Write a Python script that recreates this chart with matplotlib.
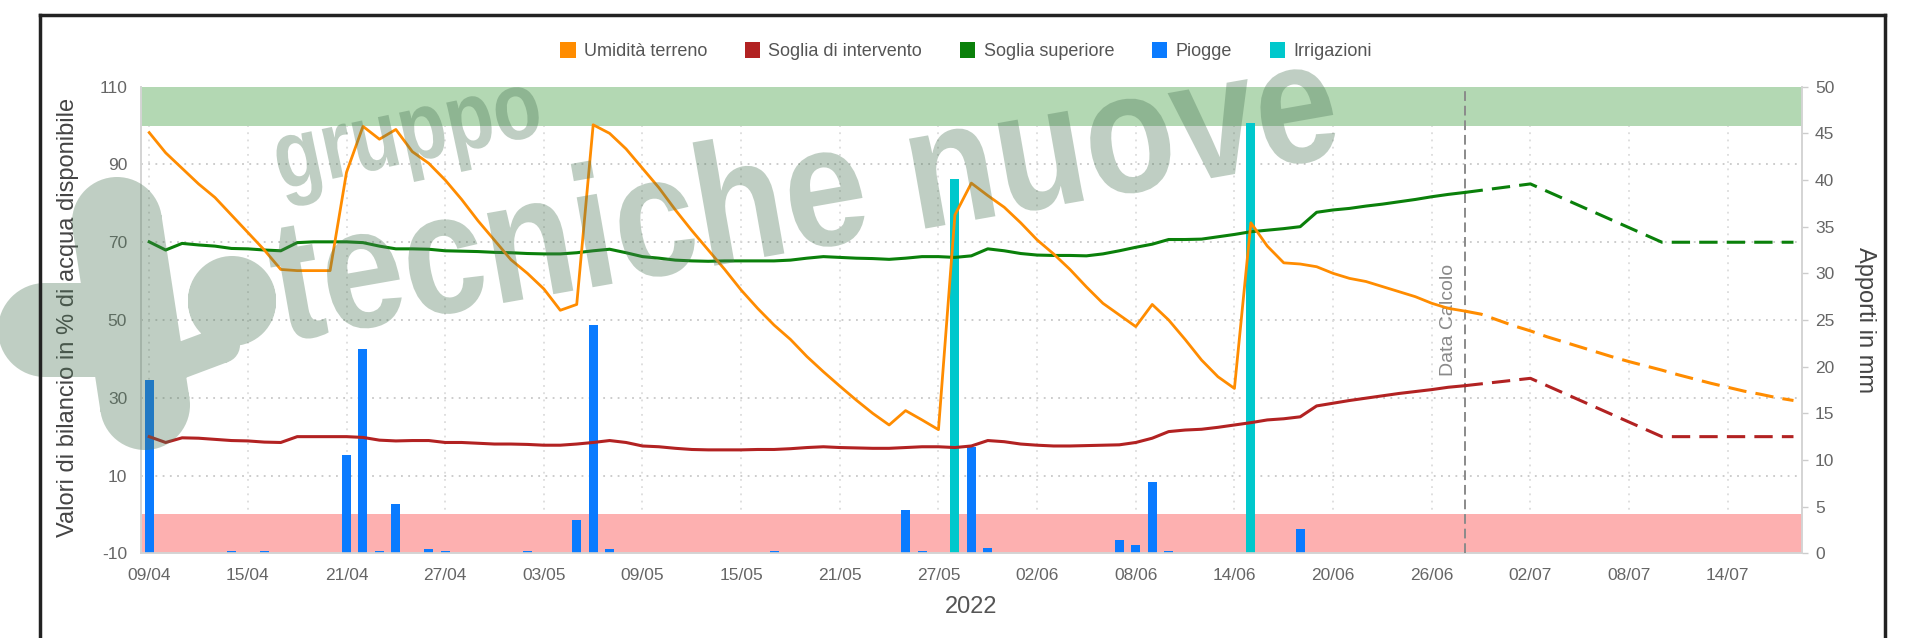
import numpy as np
import matplotlib
matplotlib.use("Agg")
import matplotlib.pyplot as plt
import matplotlib.transforms as mtransforms
from matplotlib.patches import Patch, Rectangle, PathPatch
from matplotlib.path import Path
from matplotlib.lines import Line2D
from matplotlib.textpath import TextPath
from matplotlib.font_manager import FontProperties

plt.rcParams['font.family'] = ['Liberation Sans', 'DejaVu Sans']
plt.rcParams['axes.unicode_minus'] = False

# --- data (day 0 = 09/04/2022) ---
tick_days = [0, 6, 12, 18, 24, 30, 36, 42, 48, 54, 60, 66, 72, 78, 84, 90, 96]
tick_labels = ["09/04", "15/04", "21/04", "27/04", "03/05", "09/05", "15/05", "21/05",
               "27/05", "02/06", "08/06", "14/06", "20/06", "26/06", "02/07", "08/07", "14/07"]
left_ticks = [-10, 10, 30, 50, 70, 90, 110]

umidita = [98.2, 93, 89, 85, 81.5, 77, 72.5, 68, 63, 62.7, 62.7, 62.7, 88, 99.8, 96.5,
           99, 93.3, 90.3, 86, 81, 75.5, 70.5, 65.5, 62, 58, 52.5, 54, 100.2, 98, 94,
           89, 84, 78.3, 73, 68, 63, 57.7, 53, 48.7, 45, 40.6, 36.7, 33, 29.4, 26,
           23, 26.7, 24.3, 21.8, 77, 85.2, 82, 79, 75, 70.6, 67, 63, 58.5, 54.3, 51.3,
           48.3, 54, 50, 45, 39.7, 35.4, 32.4, 75, 69, 64.7, 64.4, 63.7, 62, 60.7, 59.9,
           58.6, 57.3, 56, 54.3, 53, 52.3]
soglia_sup = [70.1, 68, 69.7, 69.3, 69, 68.4, 68.3, 68, 67.8, 69.9, 70.1, 70.1, 70.1, 69.9,
              69, 68.3, 68.3, 68.2, 67.8, 67.7, 67.6, 67.4, 67.3, 67.1, 67, 67, 67.3, 67.8,
              68.2, 67.3, 66.3, 65.9, 65.4, 65.2, 65.1, 65.2, 65.2, 65.2, 65.2, 65.4, 65.9,
              66.3, 66.1, 65.9, 65.8, 65.6, 65.9, 66.3, 66.3, 66.1, 66.5, 68.3, 67.8, 67.1,
              66.7, 66.6, 66.6, 66.5, 67, 67.8, 68.7, 69.5, 70.7, 70.7, 70.8, 71.4, 72,
              72.7, 73.1, 73.5, 74, 77.7, 78.3, 78.7, 79.3, 79.8, 80.4, 81, 81.7, 82.3, 82.8]
soglia_int = [20, 18.5, 19.7, 19.6, 19.3, 19, 18.9, 18.6, 18.5, 20, 20, 20, 20, 19.8,
              19.1, 18.9, 19, 19, 18.5, 18.5, 18.3, 18.1, 18.1, 18, 17.8, 17.8, 18.1, 18.5,
              19, 18.5, 17.6, 17.4, 17, 16.7, 16.6, 16.6, 16.6, 16.7, 16.7, 16.9, 17.2,
              17.4, 17.2, 17.1, 17, 17, 17.2, 17.4, 17.4, 17.2, 17.6, 19, 18.7, 18.1,
              17.8, 17.6, 17.6, 17.7, 17.8, 17.9, 18.5, 19.6, 21.3, 21.7, 21.9, 22.4, 23,
              23.6, 24.3, 24.6, 25.1, 27.9, 28.6, 29.3, 29.9, 30.5, 31.1, 31.6, 32.1, 32.7, 33.1]

# forecast after "Data Calcolo"
fc_start = 80
fc_umidita = [52.3, 51.5, 50, 48.5, 47.2, 45.7, 44.4, 43.1, 41.8, 40.5, 39.3, 38.2, 37.1,
              35.9, 34.8, 33.7, 32.7, 31.7, 30.9, 30, 29.3]
fc_soglie_days = [80, 84, 92, 100]
fc_sup = [82.8, 85, 70, 70]
fc_int = [33.1, 35, 20, 20]

rain_days = [0, 5, 7, 12, 13, 14, 15, 17, 18, 23, 26, 27, 28, 38, 46, 47, 50, 51, 59, 60, 61, 62, 70]
rain_mm = [18.6, 0.3, 0.3, 10.5, 21.9, 0.3, 5.3, 0.5, 0.3, 0.3, 3.6, 24.5, 0.5, 0.3, 4.6, 0.3,
           11.4, 0.6, 1.4, 0.9, 7.6, 0.3, 2.6]
irr_days = [49, 67]
irr_mm = [40.1, 46.1]

c_orange = '#FF8C00'
c_red = '#B22222'
c_green = '#0A800A'
c_blue = '#0A7BFF'
c_cyan = '#00C8CC'

W, H = 1905, 638
fig = plt.figure(figsize=(W / 100, H / 100), dpi=100)
ax = fig.add_axes([141 / W, 1 - 553.3 / H, (1801.7 - 141) / W, (553.3 - 86.7) / H])
ax2 = ax.twinx()
ax.set_zorder(2)
ax.patch.set_visible(False)
ax2.set_zorder(1)

ax.set_xlim(-0.5, 100.5)
ax.set_ylim(-10, 110)
ax2.set_ylim(0, 50)

# grid, bands and bars live on the lower (right-hand) axes so the lines stay on top
ytr = mtransforms.blended_transform_factory(ax2.transAxes, ax.transData)
xtr = mtransforms.blended_transform_factory(ax.transData, ax2.transAxes)
for v in left_ticks:
    ax2.add_line(Line2D([0, 1], [v, v], transform=ytr, color='#c8c8c8',
                        ls=(0, (1, 3)), lw=1.3, zorder=0.5))
for d in tick_days:
    ax2.add_line(Line2D([d, d], [0, 1], transform=xtr, color='#dcdcdc',
                        ls=(0, (1, 3)), lw=1.3, zorder=0.5))
ax2.add_patch(Rectangle((0, 100), 1, 10, transform=ytr, color='#B3D8B3', lw=0, zorder=1))
ax2.add_patch(Rectangle((0, -10), 1, 10, transform=ytr, color='#FDB0B0', lw=0, zorder=1))

ax2.bar(rain_days, rain_mm, width=0.55, color=c_blue, zorder=3)
ax2.bar(irr_days, irr_mm, width=0.55, color=c_cyan, zorder=3)

days = np.arange(len(umidita))
fc_days = np.arange(fc_start, fc_start + len(fc_umidita))
dash = (0, (6, 3))
ax.plot(days, soglia_sup, color=c_green, lw=2.2, zorder=4)
ax.plot(days, soglia_int, color=c_red, lw=2.2, zorder=4)
ax.plot(days, umidita, color=c_orange, lw=2.0, zorder=5)
ax.plot(fc_soglie_days, fc_sup, color=c_green, lw=2.2, ls=dash, zorder=4)
ax.plot(fc_soglie_days, fc_int, color=c_red, lw=2.2, ls=dash, zorder=4)
ax.plot(fc_days, fc_umidita, color=c_orange, lw=2.2, ls=dash, zorder=5)

ax.axvline(fc_start, color='#8a8a8a', lw=1.4, ls=(0, (5, 2.5)), zorder=3)
ax.text(79.0, 50, 'Data Calcolo', rotation=90, ha='center', va='center',
        color='#8a8a8a', fontsize=14)

ax.set_xticks(tick_days, tick_labels)
ax.set_yticks(left_ticks)
ax2.set_yticks(range(0, 51, 5))
ax.tick_params(axis='both', length=0, labelsize=12.5, labelcolor='#666666')
ax.tick_params(axis='x', pad=10.5)
ax.tick_params(axis='y', pad=10)
ax2.tick_params(axis='y', length=4.5, width=1, color='#cccccc', labelsize=12.5,
                labelcolor='#666666', pad=5)

for a in (ax, ax2):
    a.spines['top'].set_visible(False)
    for s in ('left', 'right', 'bottom'):
        a.spines[s].set_color('#d4d4d4')
        a.spines[s].set_linewidth(1.2)

ax.set_xlabel('2022', fontsize=17, color='#555555', va='center')
ax.xaxis.set_label_coords(0.5, -0.115)
ax.set_ylabel('Valori di bilancio in % di acqua disponibile', fontsize=17,
              color='#444444', va='center', ha='center')
ax.yaxis.set_label_coords(-0.044, 0.506)
ax2.set_ylabel('Apporti in mm', fontsize=17, color='#444444', rotation=270,
               va='center', ha='center')
ax2.yaxis.set_label_coords(1.038, 0.5)

labels = ['Umidità terreno', 'Soglia di intervento', 'Soglia superiore', 'Piogge', 'Irrigazioni']
colors = [c_orange, c_red, c_green, c_blue, c_cyan]
handles = [Patch(facecolor=c, edgecolor='none') for c in colors]
fig.legend(handles, labels, loc='center', bbox_to_anchor=(966 / W, 1 - 51 / H), ncol=5,
           frameon=False, fontsize=13, handlelength=0.85, handleheight=1.0,
           handletextpad=0.45, columnspacing=2.1, labelcolor='#555555')

# watermark (semi-transparent overlay), pixel coords with y measured from the top
wm = (0.31, 0.47, 0.35)
wm_alpha = 0.36
px = mtransforms.Affine2D().scale(1 / W, 1 / H) + fig.transFigure


def capsule(p1, p2, r):
    # rounded stroke from p1 to p2, as CCW subpaths
    a = np.array([p1[0], H - p1[1]], float)
    b = np.array([p2[0], H - p2[1]], float)
    d = b - a
    n = np.array([-d[1], d[0]]) / np.hypot(*d) * r
    rect = Path([a - n, b - n, b + n, a + n, a - n],
                [Path.MOVETO, Path.LINETO, Path.LINETO, Path.LINETO, Path.CLOSEPOLY])
    return [rect, Path.circle(a, r), Path.circle(b, r)]


def wm_text(s, x0, y0, size, sx, sy, angle, weight):
    tp = TextPath((0, 0), s, size=size,
                  prop=FontProperties(family='Liberation Sans', weight=weight))
    tr = mtransforms.Affine2D().scale(sx, sy).rotate_deg(angle).translate(x0, H - y0) + px
    fig.add_artist(PathPatch(tp, transform=tr, facecolor=wm, edgecolor='none',
                             alpha=wm_alpha, zorder=20))


parts = []
parts += capsule((117, 222), (145, 405), 45)
parts += capsule((45, 330), (100, 330), 47)
parts += capsule((232, 300), (232, 302), 44)
parts += capsule((150, 372), (222, 345), 18)
logo = Path.make_compound_path(*parts)
fig.add_artist(PathPatch(logo, transform=px, facecolor=wm, edgecolor='none',
                         alpha=wm_alpha, zorder=20))

wm_text('gruppo', 280, 190, 79, 1.0, 1.22, 12, 'bold')
wm_text('tecniche nuove', 282, 342, 144, 1.03, 1.2, 10, 'bold')

# outer frame of the screenshot
for xs, ys in [((40, 40), (-5, 14.6)), ((40, 1885), (14.6, 14.6)), ((1885, 1885), (14.6, -5))]:
    fig.add_artist(Line2D([x / W for x in xs], [1 - y / H if y >= 0 else 0 for y in ys],
                          color='#222222', lw=2.5, zorder=25))

fig.savefig('out.png', dpi=100, facecolor='white')
